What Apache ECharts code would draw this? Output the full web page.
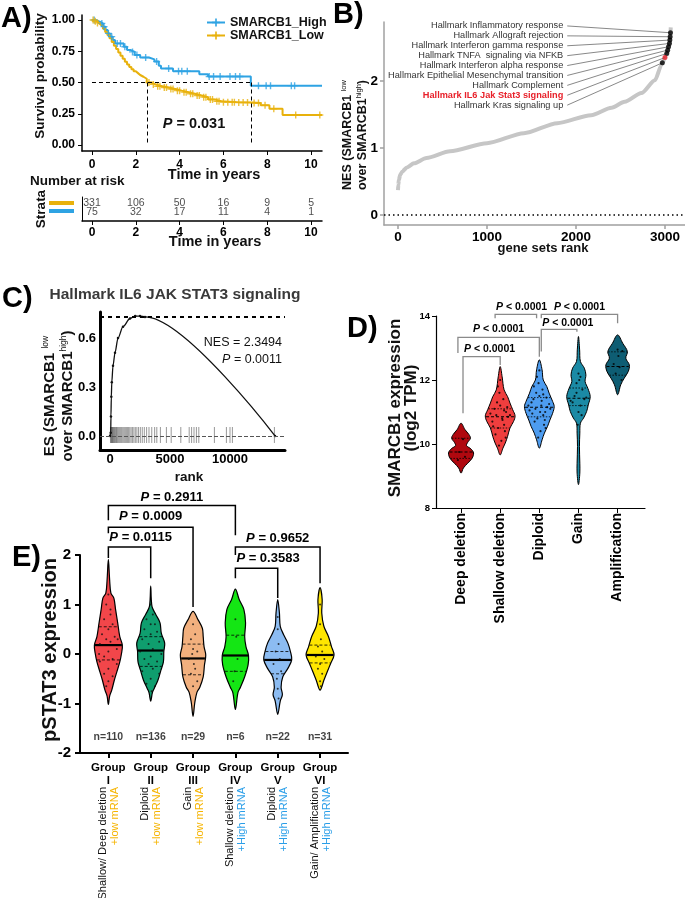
<!DOCTYPE html>
<html><head><meta charset="utf-8">
<script src="https://cdn.jsdelivr.net/npm/echarts@6/dist/echarts.min.js"></script>
<style>html,body{margin:0;padding:0;background:#fff}#c{width:685px;height:898px}</style>
</head><body><div id="c"></div><script>
// ---------------- Panel A: Kaplan-Meier ----------------
const kmHigh = [[0,1.0],[0.15,0.987],[0.35,0.973],[0.5,0.947],[0.62,0.92],[0.72,0.893],[0.82,0.867],[0.95,0.84],[1.05,0.813],[1.45,0.786],[1.6,0.76],[1.75,0.745],[1.95,0.72],[2.2,0.70],[2.6,0.685],[2.85,0.668],[3.05,0.635],[3.15,0.612],[3.7,0.59],[4.9,0.566],[5.3,0.548],[7.25,0.475],[10.5,0.475]];
const kmLow = [[0,1.0],[0.1,0.99],[0.2,0.977],[0.3,0.962],[0.4,0.947],[0.5,0.93],[0.6,0.905],[0.7,0.88],[0.8,0.855],[0.9,0.825],[1.0,0.795],[1.1,0.768],[1.2,0.74],[1.3,0.715],[1.4,0.69],[1.5,0.667],[1.6,0.645],[1.7,0.625],[1.8,0.607],[1.9,0.59],[2.0,0.575],[2.1,0.56],[2.2,0.546],[2.35,0.53],[2.5,0.50],[2.7,0.485],[2.9,0.47],[3.2,0.46],[3.5,0.448],[3.8,0.435],[4.1,0.423],[4.4,0.41],[4.7,0.396],[5.0,0.383],[5.3,0.365],[5.6,0.35],[5.9,0.343],[6.6,0.34],[7.3,0.336],[7.7,0.318],[8.1,0.29],[8.7,0.24],[10.5,0.24]];
const censorHigh = [0.1,0.45,0.55,0.75,0.9,1.15,1.3,1.5,1.85,2.05,2.45,2.95,3.5,3.95,4.1,4.35,5.35,5.55,5.85,6.3,6.55,6.75,7.6,7.95,8.15,9.1,9.25];
const censorLow = [0.05,0.15,0.25,2.6,2.8,3.0,3.1,3.3,3.4,3.6,3.7,3.9,4.0,4.2,4.3,4.5,4.6,4.8,4.9,5.1,5.2,5.4,5.5,5.7,5.8,6.0,6.2,6.4,6.5,6.7,6.9,7.1,7.4,7.6,7.9,8.3,9.3,10.4];
const kmMedians = [2.5, 7.25]; // Low, High
const kmTicksX = [0,2,4,6,8,10];
const kmTicksY = [0,0.25,0.5,0.75,1];
const riskTimes = [0,2,4,6,8,10];
const riskLow = [331,106,50,16,9,5];
const riskHigh = [75,32,17,11,4,1];

// ---------------- Panel B: NES ranking ----------------
const nesCurve = [[0,0.37],[4,0.45],[10,0.52],[25,0.6],[50,0.65],[100,0.71],[180,0.77],[320,0.85],[585,0.95],[1000,1.07],[1415,1.22],[1790,1.37],[2170,1.49],[2400,1.6],[2547,1.69],[2736,1.82],[2887,2.01],[2962,2.24],[3020,2.41],[3050,2.56],[3062,2.7],[3065,2.8]];
const hallmarks = ['Hallmark Inflammatory response','Hallmark Allograft rejection','Hallmark Interferon gamma response','Hallmark TNFA  signaling via NFKB','Hallmark Interferon alpha response','Hallmark Epithelial Mesenchymal transition','Hallmark Complement','Hallmark IL6 Jak Stat3 signaling','Hallmark Kras signaling up'];
const hallmarkNES = [2.72,2.66,2.61,2.56,2.51,2.46,2.41,2.3494,2.27];
const hallmarkRank = [3062,3058,3055,3050,3040,3030,3020,3000,2970];
const bTicksX = [0,1000,2000,3000];
const bTicksY = [0,1,2];

// ---------------- Panel C: GSEA enrichment ----------------
const esCurve = [[0,0],[60,0.02],[80,0.12],[110,0.24],[150,0.33],[250,0.43],[417,0.51],[667,0.6],[1083,0.67],[1667,0.72],[2100,0.735],[2500,0.735],[2917,0.73],[13750,0]];
const esHits = [40,90,130,170,210,260,310,360,420,480,540,610,680,760,840,920,1000,1090,1180,1270,1360,1450,1550,1650,1760,1870,1990,2110,2240,2380,2530,2690,2860,3050,3250,3480,3720,3900,4200,4700,5100,5900,6600,6800,7000,7200,7400,8700,9700,10000,10200,13700];
const esMax = 0.735;
const cNES = '2.3494', cP = '0.0011';
const cTicksX = [0,5000,10000];
const cTicksY = [0,0.3,0.6];

// ---------------- Panel D: SMARCB1 expression by CNA ----------------
const cnaCats = ['Deep deletion','Shallow deletion','Diploid','Gain','Amplification'];
const dColors = ['#b0080f','#ef3e3e','#4d9cf0','#1b8aa5','#0e5d73'];
const dProfiles = [
  [[9.09,0],[9.25,0.06],[9.4,0.17],[9.55,0.28],[9.72,0.32],[9.85,0.25],[9.95,0.14],[10.05,0.17],[10.18,0.24],[10.3,0.2],[10.45,0.1],[10.65,0]],
  [[9.66,0],[9.87,0.07],[10.03,0.13],[10.24,0.19],[10.5,0.25],[10.7,0.34],[10.88,0.38],[11.07,0.32],[11.28,0.25],[11.48,0.19],[11.69,0.1],[12.1,0.05],[12.42,0]],
  [[9.87,0],[10.13,0.07],[10.34,0.13],[10.55,0.21],[10.75,0.27],[10.96,0.34],[11.17,0.38],[11.33,0.34],[11.59,0.25],[11.8,0.19],[12.0,0.1],[12.32,0.07],[12.63,0]],
  [[8.73,0],[9.09,0.035],[9.4,0.035],[9.92,0.025],[10.34,0.035],[10.65,0.05],[10.81,0.13],[11.02,0.21],[11.22,0.25],[11.48,0.3],[11.74,0.24],[11.95,0.17],[12.16,0.19],[12.37,0.15],[12.58,0.05],[12.94,0.03],[13.36,0]],
  [[11.54,0],[11.85,0.08],[12.06,0.17],[12.26,0.27],[12.47,0.3],[12.68,0.21],[12.89,0.25],[13.15,0.13],[13.41,0]]
];
const dMedians = [9.75,10.85,11.15,11.43,12.42];
const dQ1 = [9.55,10.5,10.85,11.2,12.15];
const dQ3 = [10.18,11.1,11.45,11.75,12.88];
const dDots = [
  [[0.05,10.15],[-0.05,9.75],[0.1,9.6],[-0.08,9.5]],
  [[-0.1,10.9],[0.05,10.8],[0.15,11.0],[-0.2,10.7],[0.2,10.85],[0,11.2],[-0.05,10.5],[0.1,10.6],[-0.15,11.1],[0.08,11.4],[-0.02,11.6],[0.12,10.4],[-0.12,10.3],[0.25,10.9],[-0.25,10.95],[0.03,10.1],[-0.06,11.8],[0.18,11.15],[-0.18,10.55],[0.06,10.75],[-0.08,11.3],[0.14,10.2],[0,12.0],[-0.03,9.95],[0.1,11.05]],
  [[-0.1,11.1],[0.05,11.2],[0.15,11.0],[-0.2,11.3],[0.2,11.15],[0,11.5],[-0.05,10.8],[0.1,10.9],[-0.15,11.4],[0.08,11.7],[-0.02,11.9],[0.12,10.6],[-0.12,10.7],[0.25,11.25],[-0.25,11.05],[0.03,10.4],[-0.06,12.1],[0.18,11.45],[-0.18,10.95],[0.06,11.35],[-0.08,11.6],[0.14,10.75],[0,12.3],[-0.03,10.2],[0.1,11.55],[-0.28,11.2],[0.28,11.1],[0.02,11.0],[-0.14,11.8],[0.16,10.5]],
  [[0,12.2],[0.05,12.1],[-0.05,11.9],[0.1,11.7],[-0.1,11.5],[0.15,11.4],[-0.15,11.3],[0.05,11.2],[-0.05,11.6],[0.2,11.45],[-0.2,11.35],[0,11.0],[0.08,10.9],[-0.02,10.6],[0.02,12.0]],
  [[0,12.95],[0.12,12.9],[-0.1,12.5],[0.05,12.4],[-0.05,12.2],[0.1,12.0],[0.02,12.75]]
];
const dBrackets = [
  [0.05,1,12.73,10.96,12.47,' < 0.0001',12.96],
  [-0.08,2,13.33,12.84,12.73,' < 0.0001',13.6],
  [0.87,1.93,14.05,13.93,13.93,' < 0.0001',14.29],
  [2.05,4,14.05,13.93,13.77,' < 0.0001',14.29],
  [2.05,2.96,13.58,12.89,13.51,' < 0.0001',13.79]
];
const dTicksY = [8,10,12,14];

// ---------------- Panel E: pSTAT3 by group ----------------
const eRoman = ['I','II','III','IV','V','VI'];
const eLine1 = ['Shallow/ Deep deletion','Diploid','Gain','Shallow deletion','Diploid','Gain/ Amplification'];
const eLine2 = ['+low mRNA','+low mRNA','+low mRNA','+High mRNA','+High mRNA','+High mRNA'];
const eN = [110,136,29,6,22,31];
const eColors = ['#f2464a','#0f9e6e','#f2b07e','#14e614','#8cbcf2','#ffe600'];
const eProfiles = [
  [[-1.02,0],[-0.85,0.03],[-0.73,0.08],[-0.53,0.14],[-0.36,0.2],[-0.16,0.27],[0.01,0.31],[0.18,0.33],[0.35,0.27],[0.63,0.22],[0.9,0.17],[1.13,0.13],[1.23,0.06],[1.5,0.03],[1.91,0]],
  [[-0.95,0],[-0.78,0.04],[-0.7,0.08],[-0.53,0.17],[-0.33,0.24],[-0.16,0.3],[0.05,0.31],[0.22,0.33],[0.42,0.25],[0.63,0.22],[0.8,0.12],[0.96,0.03],[1.37,0]],
  [[-1.26,0],[-0.99,0.04],[-0.78,0.09],[-0.67,0.16],[-0.46,0.24],[-0.22,0.27],[-0.02,0.3],[0.15,0.26],[0.35,0.24],[0.52,0.22],[0.69,0.12],[0.86,0]],
  [[-1.12,0],[-0.78,0.06],[-0.67,0.12],[-0.46,0.22],[-0.22,0.3],[-0.03,0.31],[0.15,0.25],[0.35,0.22],[0.63,0.24],[0.9,0.2],[1.1,0.09],[1.31,0]],
  [[-1.22,0],[-0.95,0.06],[-0.82,0.11],[-0.67,0.08],[-0.46,0.12],[-0.29,0.24],[-0.12,0.33],[0.05,0.3],[0.22,0.24],[0.39,0.14],[0.56,0.06],[0.83,0.04],[1.1,0]],
  [[-0.73,0],[-0.53,0.09],[-0.36,0.17],[-0.19,0.25],[-0.02,0.33],[0.15,0.27],[0.35,0.2],[0.56,0.09],[0.83,0.04],[1.1,0.05],[1.34,0]]
];
const eMedians = [0.18,0.07,-0.09,-0.03,-0.12,-0.02];
const eQ1 = [-0.12,-0.25,-0.42,-0.35,-0.4,-0.18];
const eQ3 = [0.55,0.35,0.2,0.38,0.05,0.18];
const eDots = [
  [[0,1.2],[-0.05,1.0],[0.05,0.9],[-0.1,0.7],[0.1,0.6],[0,0.5],[-0.15,0.4],[0.15,0.35],[-0.05,0.3],[0.05,0.25],[-0.2,0.2],[0.2,0.1],[0,0.05],[-0.1,-0.05],[0.1,-0.1],[-0.2,-0.15],[0.2,-0.2],[0,-0.3],[-0.1,-0.4],[0.1,-0.45],[0,-0.55],[-0.05,-0.65],[0.05,0.8],[-0.22,0.0],[0.22,0.3]],
  [[0,1.0],[0.05,0.8],[-0.1,0.7],[0.1,0.6],[-0.15,0.5],[0.15,0.45],[0,0.4],[-0.2,0.3],[0.2,0.25],[-0.05,0.2],[0.05,0.1],[-0.25,0.05],[0.25,0.0],[0,-0.05],[-0.15,-0.1],[0.15,-0.15],[-0.05,-0.2],[0.05,-0.3],[-0.2,-0.35],[0.2,-0.4],[0,-0.5],[-0.1,-0.6],[0.1,-0.65],[0,0.6],[0.02,-0.75]],
  [[0,0.6],[0.05,0.4],[-0.05,0.3],[0,0.1],[0.1,0.05],[-0.1,-0.1],[0.05,-0.3],[-0.05,-0.4],[0.1,-0.55],[0,-0.65],[-0.02,0.0],[0.02,-0.2]],
  [[0,0.7],[0.02,0.35],[-0.02,-0.35],[0.05,-0.1],[-0.05,-0.55]],
  [[0,0.75],[0,0.5],[0.02,0.2],[-0.05,0.05],[0.05,-0.1],[-0.1,-0.2],[0.08,-0.35],[-0.02,-0.5],[0,-0.7],[0.02,-0.9]],
  [[0,1.0],[0,0.6],[0.02,0.3],[-0.05,0.15],[0.05,0.05],[-0.1,-0.05],[0.1,-0.1],[0,-0.2],[-0.05,-0.3],[0.05,-0.4],[0,-0.55],[0.02,-0.65]]
];
const eBrackets = [
  [0,3,3.0,2.70,2.40,' = 0.2911',3.17],
  [0,2,2.56,2.44,0.95,' = 0.0009',2.78],
  [0,1,2.16,1.94,1.53,' = 0.0115',2.36],
  [3,5,2.16,2.0,1.43,' = 0.9652',2.34],
  [3,4,1.73,1.53,1.13,' = 0.3583',1.94]
];
const eTicksY = [-2,-1,0,1,2];
const eTicksX = [0,1,2,3,4,5];

// ---------------- rendering ----------------
const FONT = 'Liberation Sans, Arial, Helvetica, sans-serif';
const BLUE = '#2ea3e3', GOLD = '#e8b10c';
const LOWC = '#f6b400', HIGHC = '#2a9ee8';
const PLUS = 'path://M4,0L6,0L6,4L10,4L10,6L6,6L6,10L4,10L4,6L0,6L0,4L4,4Z';

function survAt(curve, t) { let s = curve[0][1]; for (const p of curve) { if (p[0] <= t) s = p[1]; else break; } return s; }
function hwAt(prof, y) {
  for (let k = 0; k < prof.length - 1; k++) {
    const a = prof[k], b = prof[k + 1];
    if (y >= a[0] && y <= b[0]) return a[1] + (b[1] - a[1]) * (y - a[0]) / (b[0] - a[0]);
  }
  return 0;
}
function violinItem(profiles, meds, q1, q3, colors, cfg) {
  return function (params, api) {
    const i = api.value(0);
    const prof = profiles[i];
    const pts = [];
    prof.forEach(p => pts.push(api.coord([i + p[1], p[0]])));
    for (let k = prof.length - 2; k >= 1; k--) pts.push(api.coord([i - prof[k][1], prof[k][0]]));
    const children = [{ type: 'polygon', shape: { points: pts, smooth: 0.35 }, style: { fill: colors[i], stroke: '#000', lineWidth: cfg.outline } }];
    const seg = (y, st) => {
      const w = hwAt(prof, y) * 0.97;
      const a = api.coord([i - w, y]), b = api.coord([i + w, y]);
      children.push({ type: 'line', z2: 5, shape: { x1: a[0], y1: a[1], x2: b[0], y2: b[1] }, style: st });
    };
    seg(q1[i], { stroke: '#000', lineWidth: cfg.qWidth, lineDash: cfg.qDash });
    seg(q3[i], { stroke: '#000', lineWidth: cfg.qWidth, lineDash: cfg.qDash });
    seg(meds[i], { stroke: '#000', lineWidth: cfg.mWidth, lineDash: cfg.mDash });
    return { type: 'group', children };
  };
}
function bracketItem(list, cfg) {
  return function (params, api) {
    const b = list[params.dataIndex];
    const pL = api.coord([b[0], b[3]]), pTL = api.coord([b[0], b[2]]), pTR = api.coord([b[1], b[2]]), pR = api.coord([b[1], b[4]]);
    const pT = api.coord([(b[0] + b[1]) / 2, b[6]]);
    const leftAlign = (pTR[0] - pTL[0]) < cfg.minSpan;
    const base = { fontWeight: 'bold', fontSize: cfg.fs, fontFamily: FONT, fill: '#000' };
    return { type: 'group', children: [
      { type: 'polyline', shape: { points: [pL, pTL, pTR, pR] }, style: { stroke: cfg.color, lineWidth: cfg.width, fill: null } },
      { type: 'text', x: leftAlign ? pTL[0] + 1 : pT[0], y: pT[1], style: { text: '{i|P}{b|' + b[5] + '}', align: leftAlign ? 'left' : 'center', verticalAlign: 'middle', rich: { i: Object.assign({ fontStyle: 'italic' }, base), b: base } } }
    ] };
  };
}
const boldLabel = (fs, extra) => Object.assign({ fontFamily: FONT, fontWeight: 'bold', fontSize: fs, color: '#000' }, extra || {});
function vAxis(grid, min, max, ticks, o) {
  o = o || {};
  return {
    type: 'value', gridIndex: grid, min, max, splitLine: { show: false },
    axisLine: { show: true, onZero: false, lineStyle: { color: o.color || '#000', width: o.width || 1.2 } },
    axisTick: ticks ? { show: o.tickLen !== 0, customValues: ticks, length: o.tickLen || 4, lineStyle: { color: o.color || '#000', width: o.tickWidth || 1 } } : { show: false },
    axisLabel: ticks ? Object.assign({ customValues: ticks, margin: o.margin || 5, formatter: o.formatter || (v => String(v)) }, boldLabel(o.fs || 12, o.label)) : { show: false }
  };
}

const dotsD = []; dDots.forEach((g, i) => g.forEach(d => dotsD.push([i + d[0], d[1]])));
const dotsE = []; eDots.forEach((g, i) => g.forEach(d => dotsE.push([i + d[0], d[1]])));

const option = {
  animation: false,
  textStyle: { fontFamily: FONT },
  grid: [
    { left: 82, top: 15, width: 240, height: 136 },
    { left: 82, top: 197, width: 240, height: 24 },
    { left: 384, top: 22, width: 301, height: 203 },
    { left: 100, top: 312, width: 185, height: 138 },
    { left: 436, top: 316, width: 209, height: 192 },
    { left: 80, top: 555, width: 268, height: 198 }
  ],
  xAxis: [
    vAxis(0, -0.456, 10.5, kmTicksX, { width: 1.5, margin: 8, fs: 12 }),
    vAxis(1, -0.456, 10.5, kmTicksX, { width: 1.5, margin: 6, fs: 12 }),
    vAxis(2, -157, 3225, bTicksX, { color: '#a0a0a0', width: 1.5, margin: 5, fs: 13.5, tickWidth: 1.5 }),
    vAxis(3, -833, 14583, cTicksX, { width: 3, tickLen: 0, margin: 3, fs: 13 }),
    vAxis(4, -0.64, 4.70, [0, 1, 2, 3, 4], { width: 1.2, tickLen: 5, margin: 5, fs: 14, formatter: v => cnaCats[Math.round(v)], label: { rotate: 90 } }),
    vAxis(5, -0.67, 5.66, eTicksX, { width: 2, tickLen: 5, tickWidth: 2, margin: 8, fs: 11.5, formatter: v => 'Group\n' + eRoman[Math.round(v)], label: { lineHeight: 13 } })
  ],
  yAxis: [
    vAxis(0, -0.048, 1.04, kmTicksY, { width: 1.5, margin: 7, fs: 12, formatter: v => v.toFixed(2) }),
    vAxis(1, 0, 3, null, { width: 1 }),
    vAxis(2, -0.15, 2.88, bTicksY, { color: '#a0a0a0', width: 1.5, margin: 6, fs: 13.5, tickWidth: 1.5 }),
    vAxis(3, -0.086, 0.76, cTicksY, { width: 3, tickLen: 0, margin: 4, fs: 13, formatter: v => v.toFixed(1) }),
    vAxis(4, 8, 14, dTicksY, { width: 1.2, tickLen: 4, margin: 6, fs: 9.5 }),
    vAxis(5, -2, 2, eTicksY, { width: 2, tickLen: 5, tickWidth: 2, margin: 9, fs: 15 })
  ],
  legend: {
    data: ['SMARCB1_High', 'SMARCB1_Low'], left: 201, top: 11, orient: 'vertical', itemGap: 0,
    itemWidth: 18, itemHeight: 10, textStyle: { fontFamily: FONT, fontWeight: 'bold', fontSize: 12.5, color: '#111' }
  },
  series: [
    // A
    { type: 'line', name: 'SMARCB1_High', xAxisIndex: 0, yAxisIndex: 0, data: kmHigh, step: 'end', symbol: PLUS, symbolSize: 8, showSymbol: false,
      color: BLUE, lineStyle: { width: 2, color: BLUE }, z: 3,
      markLine: { silent: true, symbol: ['none', 'none'], label: { show: false }, lineStyle: { type: [4, 3], color: '#000', width: 1 }, z: 6,
        data: [
          [{ coord: [0, 0.5] }, { coord: [kmMedians[1], 0.5] }],
          [{ coord: [kmMedians[0], 0.5] }, { coord: [kmMedians[0], 0] }],
          [{ coord: [kmMedians[1], 0.5] }, { coord: [kmMedians[1], 0] }]
        ] } },
    { type: 'line', name: 'SMARCB1_Low', xAxisIndex: 0, yAxisIndex: 0, data: kmLow, step: 'end', symbol: PLUS, symbolSize: 8, showSymbol: false,
      color: GOLD, lineStyle: { width: 2, color: GOLD }, z: 3 },
    { type: 'scatter', xAxisIndex: 0, yAxisIndex: 0, data: censorHigh.map(t => [t, survAt(kmHigh, t)]), symbol: PLUS, symbolSize: 7, itemStyle: { color: BLUE }, z: 4 },
    { type: 'scatter', xAxisIndex: 0, yAxisIndex: 0, data: censorLow.map(t => [t, survAt(kmLow, t)]), symbol: PLUS, symbolSize: 7, itemStyle: { color: GOLD }, z: 4 },
    { type: 'scatter', xAxisIndex: 1, yAxisIndex: 1, data: riskTimes.map((t, k) => [t, 2.25, riskLow[k]]), symbolSize: 1, itemStyle: { color: 'rgba(0,0,0,0)' },
      label: { show: true, position: 'inside', formatter: p => String(p.value[2]), fontFamily: FONT, fontSize: 10.5, color: '#222' } },
    { type: 'scatter', xAxisIndex: 1, yAxisIndex: 1, data: riskTimes.map((t, k) => [t, 1.1, riskHigh[k]]), symbolSize: 1, itemStyle: { color: 'rgba(0,0,0,0)' },
      label: { show: true, position: 'inside', formatter: p => String(p.value[2]), fontFamily: FONT, fontSize: 10.5, color: '#222' } },
    // B
    { type: 'line', xAxisIndex: 2, yAxisIndex: 2, data: nesCurve, smooth: 0.25, smoothMonotone: 'x', symbol: 'none', lineStyle: { color: '#c6c6c6', width: 4 },
      markLine: { silent: true, symbol: ['none', 'none'], label: { show: false }, lineStyle: { type: [1.5, 3], color: '#000', width: 1.5 }, data: [{ yAxis: 0 }] } },
    { type: 'custom', xAxisIndex: 2, yAxisIndex: 2, data: hallmarks.map((h, i) => [i]), z: 4,
      renderItem: function (params, api) {
        const i = params.dataIndex;
        const a = api.coord([1857, 2.821 - i * 0.1478]);
        const p = api.coord([hallmarkRank[i], hallmarkNES[i]]);
        const red = i === 7;
        return { type: 'group', children: [
          { type: 'line', shape: { x1: a[0] + 4, y1: a[1], x2: p[0], y2: p[1] }, style: { stroke: '#555', lineWidth: 0.7 } },
          { type: 'text', x: a[0], y: a[1], style: { text: hallmarks[i], align: 'right', verticalAlign: 'middle', fontFamily: FONT, fontSize: 9.2, fontWeight: red ? 'bold' : 'normal', fill: red ? '#e8202a' : '#333' } }
        ] };
      } },
    { type: 'scatter', xAxisIndex: 2, yAxisIndex: 2, z: 5, data: hallmarkRank.map((r, i) => ({ value: [r, hallmarkNES[i]], itemStyle: { color: i === 7 ? '#e8202a' : '#000' } })), symbolSize: 5 },
    // C
    { type: 'custom', xAxisIndex: 3, yAxisIndex: 3, data: esHits.map(r => [r]), z: 2,
      renderItem: function (params, api) {
        const a = api.coord([api.value(0), 0.055]), b = api.coord([api.value(0), -0.043]);
        return { type: 'line', shape: { x1: a[0], y1: a[1], x2: b[0], y2: b[1] }, style: { stroke: 'rgba(70,70,70,0.55)', lineWidth: 1 } };
      } },
    { type: 'line', xAxisIndex: 3, yAxisIndex: 3, data: esCurve, smooth: 0.3, smoothMonotone: 'x', symbol: 'circle', symbolSize: 2.5, showAllSymbol: true,
      itemStyle: { color: '#111' }, lineStyle: { color: '#111', width: 1.3 }, z: 4,
      markLine: { silent: true, symbol: ['none', 'none'], label: { show: false },
        data: [
          { yAxis: esMax, lineStyle: { type: [4, 4], color: '#000', width: 2 } },
          { yAxis: 0, lineStyle: { type: [4, 2], color: '#555', width: 1 } }
        ] } },
    // D
    { type: 'custom', xAxisIndex: 4, yAxisIndex: 4, data: cnaCats.map((c, i) => [i]), z: 2,
      renderItem: violinItem(dProfiles, dMedians, dQ1, dQ3, dColors, { outline: 1, qWidth: 0.8, qDash: [1.5, 1.5], mWidth: 1.1, mDash: [3, 2] }) },
    { type: 'scatter', xAxisIndex: 4, yAxisIndex: 4, data: dotsD, symbolSize: 2.2, itemStyle: { color: '#000' }, z: 3 },
    { type: 'custom', xAxisIndex: 4, yAxisIndex: 4, data: dBrackets.map((b, i) => [i]), z: 4,
      renderItem: bracketItem(dBrackets, { minSpan: 55, fs: 10.5, color: '#8a8a8a', width: 1.3 }) },
    // E
    { type: 'custom', xAxisIndex: 5, yAxisIndex: 5, data: eRoman.map((r, i) => [i]), z: 2,
      renderItem: violinItem(eProfiles, eMedians, eQ1, eQ3, eColors, { outline: 1.2, qWidth: 0.8, qDash: [3, 2], mWidth: 2.2, mDash: null }) },
    { type: 'scatter', xAxisIndex: 5, yAxisIndex: 5, data: dotsE, symbolSize: 2, itemStyle: { color: '#111' }, z: 3 },
    { type: 'custom', xAxisIndex: 5, yAxisIndex: 5, data: eBrackets.map((b, i) => [i]), z: 4,
      renderItem: bracketItem(eBrackets, { minSpan: 70, fs: 13, color: '#000', width: 1.5 }) },
    { type: 'scatter', xAxisIndex: 5, yAxisIndex: 5, data: eN.map((n, i) => [i, -1.67, n]), symbolSize: 1, itemStyle: { color: 'rgba(0,0,0,0)' },
      label: { show: true, position: 'inside', formatter: p => 'n=' + p.value[2], fontFamily: FONT, fontWeight: 'bold', fontSize: 10.5, color: '#111' } },
    { type: 'custom', xAxisIndex: 5, yAxisIndex: 5, data: eRoman.map((r, i) => [i]),
      renderItem: function (params, api) {
        const i = params.dataIndex;
        const p = api.coord([i, -2]);
        const y = p[1] + 34;
        const isLow = eLine2[i].indexOf('low') >= 0;
        return { type: 'group', children: [
          { type: 'text', x: p[0] - 5.5, y: y, rotation: Math.PI / 2, style: { text: eLine1[i], align: 'right', verticalAlign: 'middle', fontFamily: FONT, fontSize: 11, fill: '#111' } },
          { type: 'text', x: p[0] + 6.5, y: y, rotation: Math.PI / 2, style: { text: eLine2[i], align: 'right', verticalAlign: 'middle', fontFamily: FONT, fontSize: 11, fill: isLow ? LOWC : HIGHC } }
        ] };
      } }
  ],
  graphic: [
    { type: 'text', x: 1, y: 19, style: { text: 'A)', fontFamily: FONT, fontWeight: 'bold', fontSize: 29, fill: '#000', verticalAlign: 'middle' } },
    { type: 'text', x: 333, y: 15, style: { text: 'B)', fontFamily: FONT, fontWeight: 'bold', fontSize: 29, fill: '#000', verticalAlign: 'middle' } },
    { type: 'text', x: 2, y: 299, style: { text: 'C)', fontFamily: FONT, fontWeight: 'bold', fontSize: 29, fill: '#000', verticalAlign: 'middle' } },
    { type: 'text', x: 347, y: 329, style: { text: 'D)', fontFamily: FONT, fontWeight: 'bold', fontSize: 29, fill: '#000', verticalAlign: 'middle' } },
    { type: 'text', x: 12, y: 558, style: { text: 'E)', fontFamily: FONT, fontWeight: 'bold', fontSize: 29, fill: '#000', verticalAlign: 'middle' } },
    { type: 'text', x: 40, y: 76, rotation: Math.PI / 2, style: { text: 'Survival probability', fontFamily: FONT, fontWeight: 'bold', fontSize: 13.5, fill: '#111', align: 'center', verticalAlign: 'middle' } },
    { type: 'text', x: 214, y: 175, style: { text: 'Time in years', fontFamily: FONT, fontWeight: 'bold', fontSize: 14.5, fill: '#111', align: 'center', verticalAlign: 'middle' } },
    { type: 'text', x: 30, y: 181, style: { text: 'Number at risk', fontFamily: FONT, fontWeight: 'bold', fontSize: 13.5, fill: '#111', align: 'left', verticalAlign: 'middle' } },
    { type: 'text', x: 41, y: 209, rotation: Math.PI / 2, style: { text: 'Strata', fontFamily: FONT, fontWeight: 'bold', fontSize: 13.5, fill: '#111', align: 'center', verticalAlign: 'middle' } },
    { type: 'text', x: 215, y: 242, style: { text: 'Time in years', fontFamily: FONT, fontWeight: 'bold', fontSize: 14.5, fill: '#111', align: 'center', verticalAlign: 'middle' } },
    { type: 'rect', shape: { x: 49, y: 201, width: 25, height: 4 }, style: { fill: GOLD } },
    { type: 'rect', shape: { x: 49, y: 209, width: 25, height: 4 }, style: { fill: BLUE } },
    { type: 'text', x: 194, y: 124, style: { text: '{i|P}{b| = 0.031}', align: 'center', verticalAlign: 'middle',
      rich: { i: { fontFamily: FONT, fontWeight: 'bold', fontStyle: 'italic', fontSize: 14.5, fill: '#111' }, b: { fontFamily: FONT, fontWeight: 'bold', fontSize: 14.5, fill: '#111' } } } },
    { type: 'text', x: 355, y: 135, rotation: Math.PI / 2, style: { text: '{b|NES (SMARCB1 }{s|low}\n{b|over SMARCB1}{s|high}{b|)}', align: 'center', verticalAlign: 'middle',
      rich: { b: { fontFamily: FONT, fontWeight: 'bold', fontSize: 12.5, fill: '#111', lineHeight: 15 }, s: { fontFamily: FONT, fontSize: 7.5, fill: '#111', lineHeight: 15, verticalAlign: 'top' } } } },
    { type: 'text', x: 543, y: 248, style: { text: 'gene sets rank', fontFamily: FONT, fontWeight: 'bold', fontSize: 13, fill: '#111', align: 'center', verticalAlign: 'middle' } },
    { type: 'text', x: 175, y: 295, style: { text: 'Hallmark IL6 JAK STAT3 signaling', fontFamily: FONT, fontWeight: 'bold', fontSize: 15.5, fill: '#3a3a3a', align: 'center', verticalAlign: 'middle' } },
    { type: 'text', x: 59, y: 396, rotation: Math.PI / 2, style: { text: '{b|ES (SMARCB1 }{s|low}\n{b|over SMARCB1}{s|high}{b|)}', align: 'center', verticalAlign: 'middle',
      rich: { b: { fontFamily: FONT, fontWeight: 'bold', fontSize: 15, fill: '#111', lineHeight: 18 }, s: { fontFamily: FONT, fontSize: 8.5, fill: '#111', lineHeight: 18, verticalAlign: 'top' } } } },
    { type: 'text', x: 189, y: 477, style: { text: 'rank', fontFamily: FONT, fontWeight: 'bold', fontSize: 13.5, fill: '#111', align: 'center', verticalAlign: 'middle' } },
    { type: 'text', x: 282, y: 343, style: { text: 'NES = ' + cNES, fontFamily: FONT, fontSize: 12.5, fill: '#111', align: 'right', verticalAlign: 'middle' } },
    { type: 'text', x: 282, y: 360, style: { text: '{i|P}{b| = ' + cP + '}', align: 'right', verticalAlign: 'middle',
      rich: { i: { fontFamily: FONT, fontStyle: 'italic', fontSize: 12.5, fill: '#111' }, b: { fontFamily: FONT, fontSize: 12.5, fill: '#111' } } } },
    { type: 'text', x: 403, y: 408, rotation: Math.PI / 2, style: { text: 'SMARCB1 expression\n(log2 TPM)', fontFamily: FONT, fontWeight: 'bold', fontSize: 17, lineHeight: 16, fill: '#111', align: 'center', verticalAlign: 'middle' } },
    { type: 'text', x: 50, y: 650, rotation: Math.PI / 2, style: { text: 'pSTAT3 expression', fontFamily: FONT, fontWeight: 'bold', fontSize: 20, fill: '#111', align: 'center', verticalAlign: 'middle' } }
  ]
};
const chart = echarts.init(document.getElementById('c'), null, { renderer: 'canvas', width: 685, height: 898 });
chart.setOption(option);
</script></body></html>
